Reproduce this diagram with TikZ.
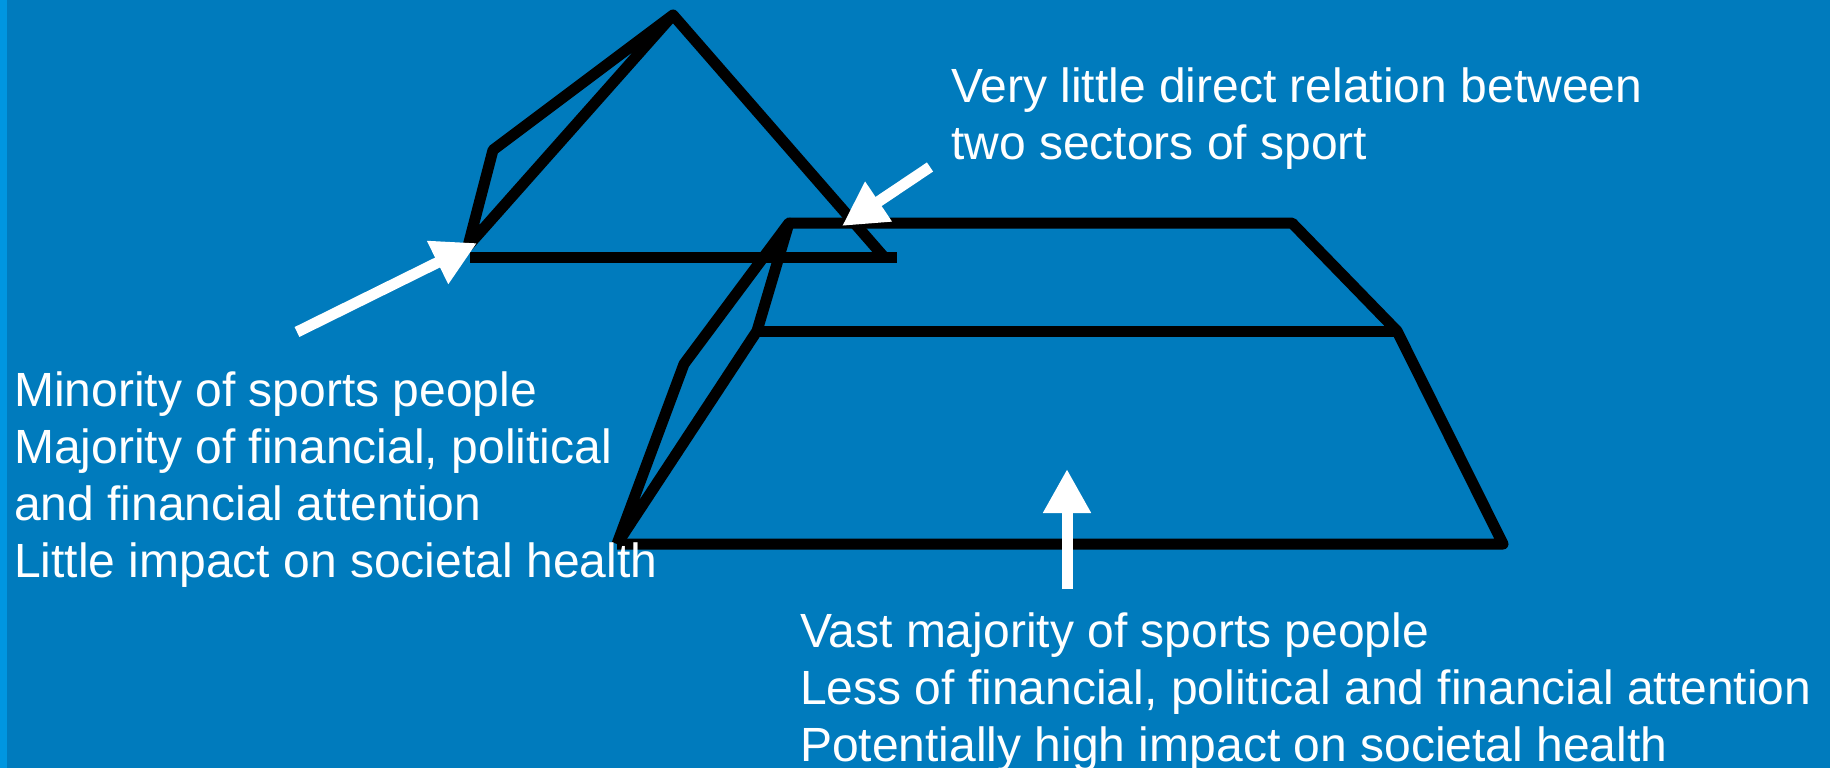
\documentclass[tikz,border=0pt]{standalone}
\usepackage{fontspec}
\setmainfont{Liberation Sans}
\usetikzlibrary{arrows.meta}
\definecolor{bgblue}{RGB}{0,123,189}
\definecolor{stripblue}{RGB}{0,150,224}
\begin{document}
\begin{tikzpicture}[x=1pt,y=-1pt,
  edge/.style={line width=11pt, black, line join=round},
  pointer/.style={line width=11pt, white, -{Triangle[length=44pt,width=45pt]}},
  label/.style={white, font=\fontsize{48}{57}\selectfont, align=left, inner sep=0pt, anchor=base west}]
\fill[bgblue] (0,0) rectangle (1830,768);
\fill[stripblue] (0,0) rectangle (7,768);
\useasboundingbox (0,0) rectangle (1830,768);
% small pyramid
\coordinate (A) at (673,15);
\coordinate (B) at (493,150);
\coordinate (C) at (468,246);
\coordinate (D) at (884,257);
\coordinate (E1) at (470,257);
\coordinate (E2) at (897,257);
\draw[edge] (A) -- (B) -- (C) -- (A) -- (D);
\draw[edge] (E1) -- (E2);
% big trapezoid
\coordinate (P) at (789,223);
\coordinate (Q) at (1292,223);
\coordinate (R) at (1397,331);
\coordinate (S) at (1503,544);
\coordinate (T) at (617,544);
\coordinate (M) at (757,331);
\coordinate (N) at (684,364);
\draw[edge] (T) -- (N) -- (P) -- (M) -- (T);
\draw[edge] (P) -- (Q) -- (R) -- (S) -- (T);
\draw[edge] (M) -- (R);
% pointers
\coordinate (a1s) at (297,332);
\coordinate (a1e) at (477,243);
\coordinate (a2s) at (930,167);
\coordinate (a2e) at (842,226);
\coordinate (a3s) at (1067,589);
\coordinate (a3e) at (1067,469);
\draw[pointer] (a1s) -- (a1e);
\draw[pointer] (a2s) -- (a2e);
\draw[pointer] (a3s) -- (a3e);
% texts (base anchor = baseline of last line)
\node[label] (top) at (951,159) {Very little direct relation between\\two sectors of sport};
\node[label] (left) at (14,577) {Minority of sports people\\Majority of financial, political\\and financial attention\\Little impact on societal health};
\node[label] (bottom) at (800,761) {Vast majority of sports people\\Less of financial, political and financial attention\\Potentially high impact on societal health};
\end{tikzpicture}
\end{document}
